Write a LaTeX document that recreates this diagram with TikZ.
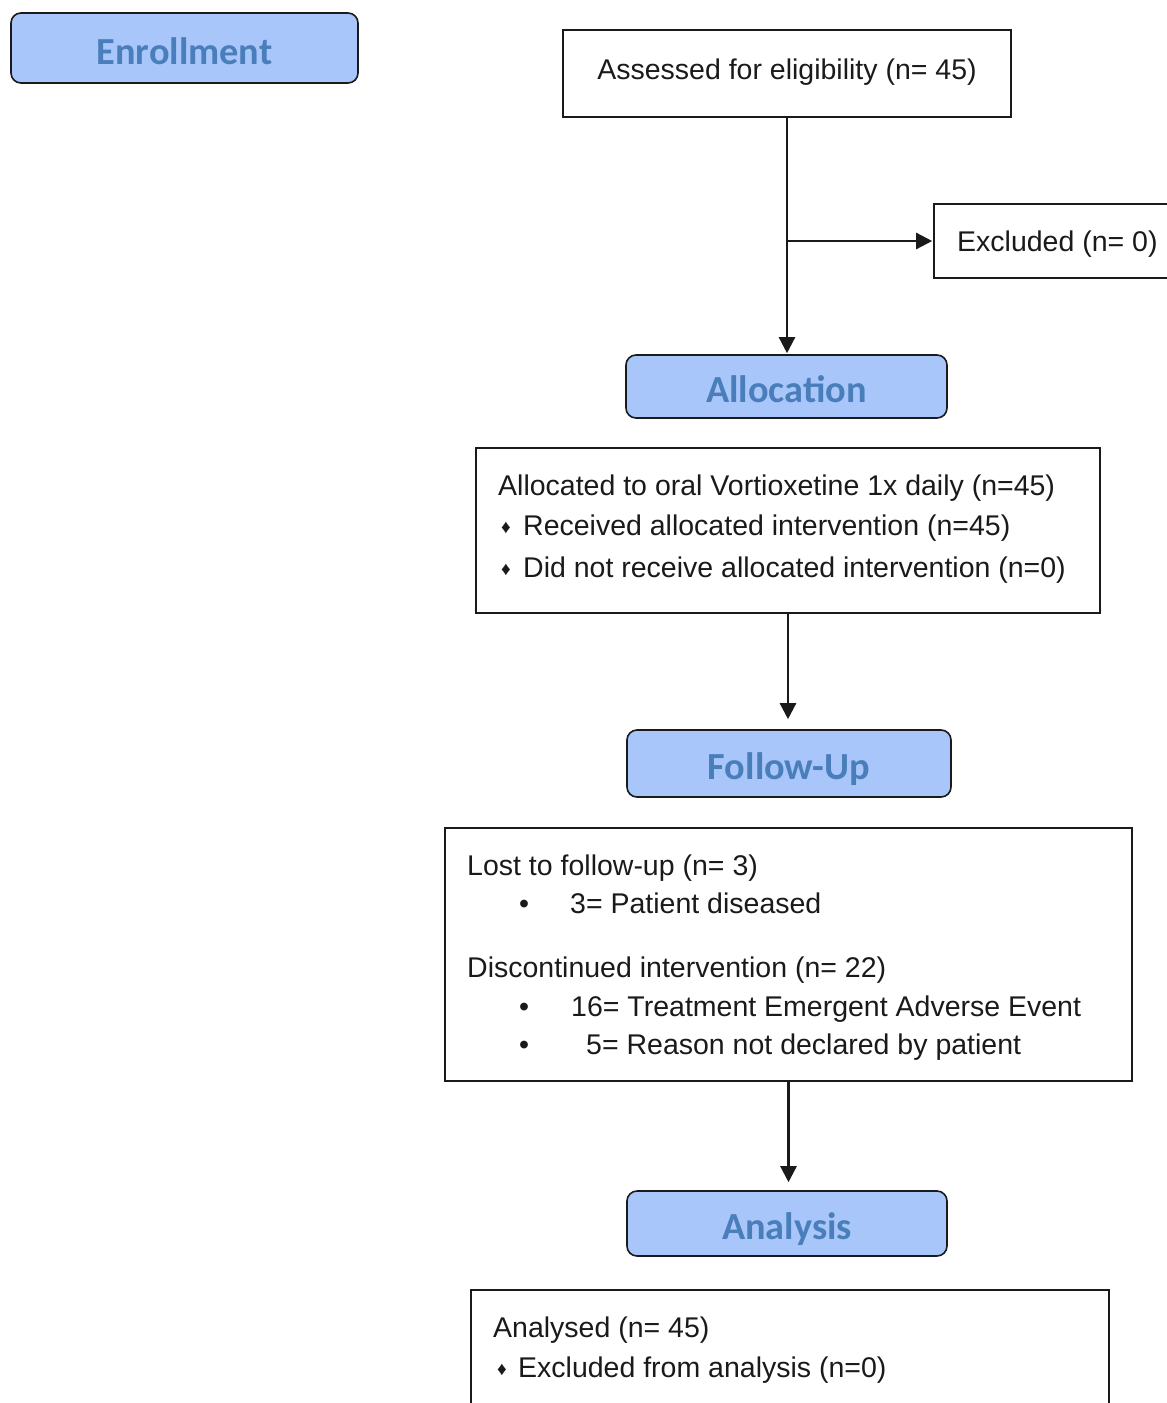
\documentclass[tikz,border=0pt]{standalone}
\usepackage{fontspec}
\setmainfont{Liberation Sans}
\newfontfamily\headfont{Carlito}
\usetikzlibrary{arrows.meta}
\definecolor{headfill}{HTML}{A8C6FA}
\definecolor{headtext}{HTML}{4A7EBB}
\definecolor{ink}{HTML}{1A1A1A}
\begin{document}
\begin{tikzpicture}[x=1pt,y=-1pt,
  head/.style={draw=ink, line width=1.6pt, rounded corners=10pt, fill=headfill, text=headtext,
    font=\headfont\bfseries\fontsize{38.3}{44}\selectfont, inner sep=0, text height=36pt, text depth=4pt},
  box/.style={draw=ink, line width=1.6pt, inner sep=0},
  txt/.style={anchor=base west, inner sep=0, text=ink, font=\fontsize{28.5}{34}\selectfont},
  ctxt/.style={anchor=base, inner sep=0, text=ink, font=\fontsize{28.5}{34}\selectfont},
  dia/.style={anchor=base, inner sep=0, text=ink, font=\fontsize{19}{20}\selectfont},
  arr/.style={draw=ink, line width=2.4pt, -{Triangle[length=16pt,width=16pt]}}
]
\useasboundingbox (0,0) rectangle (1167,1403);
\clip (0,0) rectangle (1167,1403);
% boxes
\node[head, minimum width=347pt, minimum height=70pt] (enr) at (184.5,48) {Enrollment};
\node[box, minimum width=448pt, minimum height=87pt] (assess) at (787,73.5) {};
\node[box, minimum width=246pt, minimum height=74pt] (excl) at (1057,241) {};
\node[head, minimum width=321pt, minimum height=63pt] (alloch) at (786.5,386.5) {Allocation};
\node[box, minimum width=624pt, minimum height=165pt] (allocbox) at (788,530.5) {};
\node[head, minimum width=324pt, minimum height=67pt] (fuh) at (789,763.5) {Follow-Up};
\node[box, minimum width=687pt, minimum height=253pt] (lost) at (788.5,954.5) {};
\node[head, minimum width=320pt, minimum height=65pt] (analh) at (787,1223.5) {Analysis};
\node[box, minimum width=638pt, minimum height=130pt] (analbox) at (790,1355) {};
% texts
\node[ctxt] (t0) at (787,79) {Assessed for eligibility (n= 45)};
\node[txt] (t1) at (957,251) {Excluded (n= 0)};
\node[txt] (a1) at (498,495) {Allocated to oral Vortioxetine 1x daily (n=45)};
\node[dia] (d1) at (506,533) {♦};
\node[txt] (a2) at (523,535) {Received allocated intervention (n=45)};
\node[dia] (d2) at (506,575) {♦};
\node[txt] (a3) at (523,577) {Did not receive allocated intervention (n=0)};
\node[txt] (l1) at (467,875) {Lost to follow-up (n= 3)};
\node[ctxt] (b1) at (524,913) {•};
\node[txt] (l2) at (570,913) {3= Patient diseased};
\node[txt] (l3) at (467,977) {Discontinued intervention (n= 22)};
\node[ctxt] (b2) at (524,1016) {•};
\node[txt] (l4) at (571,1016) {16= Treatment Emergent Adverse Event};
\node[ctxt] (b3) at (524,1054) {•};
\node[txt] (l5) at (586,1054) {5= Reason not declared by patient};
\node[txt] (n1) at (493,1337) {Analysed (n= 45)};
\node[dia] (d3) at (502,1375) {♦};
\node[txt] (n2) at (518,1377) {Excluded from analysis (n=0)};
% connectors
\coordinate (br) at (788,241);
\draw[arr, shorten >=1pt] (assess.south) -- (assess.south |- alloch.north);
\draw[arr, shorten >=1pt] (br) -- (excl.west);
\draw[arr, shorten >=10pt] (allocbox.south) -- (allocbox.south |- fuh.north);
\draw[arr, shorten >=8pt] (lost.south) -- (lost.south |- analh.north);
\end{tikzpicture}
\end{document}
